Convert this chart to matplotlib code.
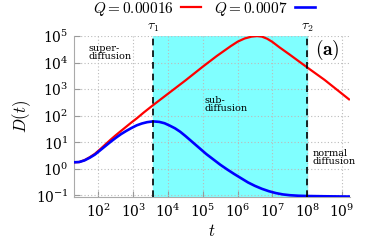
import numpy as np
import matplotlib
matplotlib.use("Agg")
import matplotlib.pyplot as plt
from matplotlib.lines import Line2D

plt.rcParams['mathtext.fontset'] = 'cm'
plt.rcParams['font.family'] = 'DejaVu Serif'

# valores (log10)
logt_red = [1.3, 1.45, 1.6, 1.75, 1.9, 2.05, 2.2, 2.35, 2.5, 2.65, 2.8, 2.95, 3.1, 3.3,
            3.57, 4.0, 4.5, 5.0, 5.4, 5.8, 6.0, 6.2, 6.4, 6.56, 6.7, 6.85, 7.0, 7.2,
            7.5, 8.0, 8.5, 9.2]
logD_red = [0.25, 0.26, 0.33, 0.44, 0.57, 0.74, 0.92, 1.1, 1.27, 1.43, 1.59, 1.75, 1.9, 2.12,
            2.40, 2.83, 3.33, 3.85, 4.25, 4.62, 4.79, 4.91, 4.98, 5.0, 4.98, 4.9, 4.78, 4.58,
            4.3, 3.82, 3.35, 2.62]

logt_blue = [1.3, 1.45, 1.6, 1.75, 1.9, 2.05, 2.2, 2.35, 2.5, 2.65, 2.8, 2.95, 3.1, 3.25,
             3.4, 3.57, 3.75, 3.9, 4.05, 4.2, 4.35, 4.5, 4.65, 4.8, 4.95, 5.1, 5.3, 5.5,
             5.7, 5.9, 6.1, 6.3, 6.5, 6.7, 6.9, 7.1, 7.3, 7.5, 7.75, 8.0, 8.5, 9.2]
logD_blue = [0.25, 0.26, 0.32, 0.42, 0.54, 0.7, 0.86, 1.02, 1.17, 1.31, 1.43, 1.54, 1.64, 1.71,
             1.76, 1.79, 1.77, 1.72, 1.63, 1.53, 1.40, 1.24, 1.07, 0.9, 0.73, 0.56, 0.36, 0.16,
             -0.02, -0.19, -0.35, -0.51, -0.64, -0.75, -0.84, -0.91, -0.96, -0.99, -1.01,
             -1.02, -1.03, -1.04]

tau1 = 3.7e3
tau2 = 1e8
labels = [r'$Q=0.00016$', r'$Q=0.0007$']

fig = plt.figure(figsize=(3.74, 2.49), dpi=100)
ax = fig.add_axes([0.198, 0.209, 0.738, 0.646])

ax.axvspan(tau1, tau2, color='#80ffff', zorder=0)
ax.plot(10**np.array(logt_red), 10**np.array(logD_red), color='red', lw=1.6, zorder=3)
ax.plot(10**np.array(logt_blue), 10**np.array(logD_blue), color='blue', lw=1.9, zorder=3)
for tau in [tau1, tau2]:
    ax.axvline(tau, color='black', ls=(0, (4, 3)), lw=1.2, zorder=4)

ax.set_xscale('log')
ax.set_yscale('log')
ax.set_xlim(20, 1.7e9)
ax.set_ylim(0.088, 1e5)
ax.set_xticks([10.0**k for k in range(2, 10)])
ax.set_yticks([10.0**k for k in range(-1, 6)])
ax.tick_params(which='both', direction='in', color='#999999', labelsize=10, pad=4)
ax.tick_params(which='major', length=4)
ax.tick_params(which='minor', length=2)
ax.grid(True, which='major', ls=(0, (1, 2)), color='#bbbbbb', lw=0.8)
for s in ['top', 'right']:
    ax.spines[s].set_visible(False)
for s in ['left', 'bottom']:
    ax.spines[s].set_color('#aaaaaa')

ax.set_xlabel(r'$t$', fontsize=12, labelpad=2)
ax.set_ylabel(r'$D(t)$', fontsize=12, labelpad=2)

ax.text(tau1, 1.15e5, r'$\tau_1$', ha='center', va='bottom', fontsize=10)
ax.text(tau2, 1.15e5, r'$\tau_2$', ha='center', va='bottom', fontsize=10)
ax.text(10**1.73, 10**4.7, 'super-\ndiffusion', fontsize=7, va='top', linespacing=0.85)
ax.text(10**5.06, 10**2.74, 'sub-\ndiffusion', fontsize=7, va='top', linespacing=0.85)
ax.text(10**8.14, 10**0.75, 'normal\ndiffusion', fontsize=7, va='top', linespacing=0.85)
ax.text(10**8.58, 10**4.48, r'$\mathbf{(a)}$', fontsize=14, ha='center', va='center')

handles = [Line2D([], [], color='red', lw=1.6), Line2D([], [], color='blue', lw=1.9)]
fig.legend(handles, labels, loc='center', bbox_to_anchor=(0.545, 0.965), ncol=2,
           frameon=False, markerfirst=False, fontsize=11, handlelength=1.3,
           handletextpad=0.5, columnspacing=0.8, borderpad=0.0)

fig.savefig('out.png', dpi=100)
